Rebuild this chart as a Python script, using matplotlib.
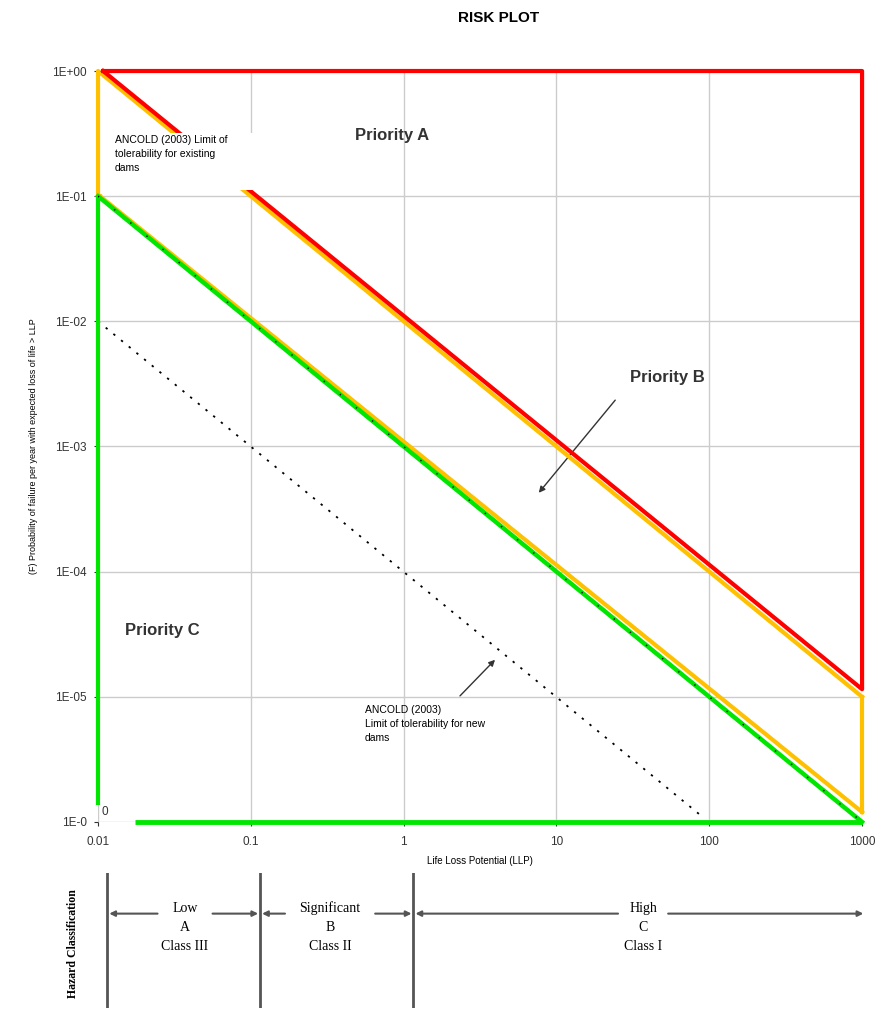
import numpy as np
import matplotlib; matplotlib.use('Agg')
import matplotlib.pyplot as plt
from matplotlib.patches import Rectangle

plt.rcParams['font.family'] = ['Liberation Sans', 'DejaVu Sans']

# axis ticks
x_ticks = [0.01, 0.1, 1, 10, 100, 1000]
x_labels = ['0.01', '0.1', '1', '10', '100', '1000']
y_ticks = [1e0, 1e-1, 1e-2, 1e-3, 1e-4, 1e-5, 1e-6]
y_labels = ['1E+00', '1E-01', '1E-02', '1E-03', '1E-04', '1E-05', '1E-0']

# red boundary (Priority A limit)
red_x = [0.0108, 1000, 1000, 0.0108]
red_y = [1.0, 1.0, 1.15e-5, 1.0]
# orange boundary (ANCOLD existing dams + offset band)
orange_x = [1000, 1000, 0.0103, 0.01, 0.01, 1000]
orange_y = [1.2e-6, 1e-5, 0.1, 0.1, 1.0, 1e-5]
orange_lo_x = [0.0103, 1000]
orange_lo_y = [0.1, 1.2e-6]
# green boundary (Priority C)
green_diag_x = [0.01, 1000]
green_diag_y = [0.1, 1e-6]
green_vert_x = [0.01, 0.01]
green_vert_y = [0.1, 1.37e-6]
green_base_x = [0.0175, 1000]
green_base_y = [1e-6, 1e-6]
# ANCOLD new dams (dotted)
new_x = [0.01, 87]
new_y = [0.01, 1.14e-6]

# hazard classification bands
haz_bounds = [0.0115, 0.115, 1.16]
haz_right = 1050
haz_labels = ['Low\nA\nClass III', 'Significant\nB\nClass II', 'High\nC\nClass I']
haz_centers = [0.0371, 0.33, 36.9]
haz_gap = [0.18, 0.295, 0.164]   # half gap (decades) around the label

fig = plt.figure(figsize=(8.88, 10.13), dpi=100)
ax = fig.add_axes([0.1104, 0.1886, 0.8604, 0.7413])
ax.set_xscale('log'); ax.set_yscale('log')
ax.set_xlim(0.01, 1000); ax.set_ylim(1e-6, 1.0)
ax.set_xticks(x_ticks); ax.set_xticklabels(x_labels, fontsize=8.5, color='#333333')
ax.set_yticks(y_ticks); ax.set_yticklabels(y_labels, fontsize=8.5, color='#333333')
ax.minorticks_off()
ax.tick_params(axis='y', length=3, width=0.8, pad=5, color='#333333')
ax.tick_params(axis='x', length=3, width=0.8, pad=7, color='#333333')
for s in ax.spines.values(): s.set_visible(False)
ax.grid(True, color='#cccccc', lw=1.0)
ax.set_axisbelow(True)

ax.plot(new_x, new_y, color='black', lw=1.3, ls=(0, (1.3, 4.2)), zorder=2)
ax.plot(green_diag_x, green_diag_y, color='#00e600', lw=3.2, zorder=4.5, clip_on=False)
ax.plot(green_vert_x, green_vert_y, color='#00e600', lw=3, zorder=3, solid_capstyle='butt', clip_on=False)
ax.plot(green_base_x, green_base_y, color='#00e600', lw=3.5, zorder=3, solid_capstyle='butt', clip_on=False)
ax.plot(green_diag_x, green_diag_y, color='black', lw=1.0, ls=(0, (1, 14)), zorder=4.6)
ax.plot(orange_lo_x, orange_lo_y, color='#ffc000', lw=3, zorder=4, clip_on=False)
ax.plot(orange_x[2:], orange_y[2:], color='#ffc000', lw=3, zorder=4, clip_on=False)
ax.plot(orange_x[:2], orange_y[:2], color='#ffc000', lw=3, zorder=4, clip_on=False)
ax.plot(red_x, red_y, color='#ff0000', lw=3, zorder=5, clip_on=False)

# white box behind the existing dams note
ax.add_patch(Rectangle((0.013, 0.8415), 0.191, 0.0755, transform=ax.transAxes,
                       facecolor='white', edgecolor='none', zorder=6))
ax.text(0.0129, 0.308, 'ANCOLD (2003) Limit of\ntolerability for existing\ndams',
        fontsize=7.5, va='top', ha='left', linespacing=1.5, zorder=7)

ax.text(0.84, 0.308, 'Priority A', fontsize=12, weight='bold', color='#333333', ha='center', va='center')
ax.text(52.9, 3.53e-3, 'Priority B', fontsize=12, weight='bold', color='#333333', ha='center', va='center')
ax.text(0.0262, 3.37e-5, 'Priority C', fontsize=12, weight='bold', color='#333333', ha='center', va='center')
ax.annotate('', xy=(7.46, 4.1e-4), xytext=(24.9, 2.44e-3),
            arrowprops=dict(arrowstyle='-|>', color='#333333', lw=1.0, mutation_scale=9))
ax.annotate('', xy=(4.08, 2.05e-5), xytext=(2.27, 9.8e-6),
            arrowprops=dict(arrowstyle='-|>', color='#333333', lw=1.0, mutation_scale=9))
ax.text(0.559, 8.6e-6, 'ANCOLD (2003)\nLimit of tolerability for new\ndams',
        fontsize=7.5, va='top', ha='left', linespacing=1.5)
ax.text(0.0106, 1.08e-6, '0', fontsize=8.5, color='#333333', ha='left', va='bottom')

ax.set_xlabel('Life Loss Potential (LLP)', fontsize=7, labelpad=6)
ax.set_ylabel('(F) Probability of failure per year with expected loss of life > LLP', fontsize=6.5, labelpad=10)
fig.text(0.562, 0.982, 'RISK PLOT', fontsize=11, weight='bold', ha='center', va='center')

# hazard classification panel
hx = fig.add_axes([0.1104, 0.005, 0.8604, 0.133])
hx.set_xscale('log'); hx.set_xlim(0.01, 1000); hx.set_ylim(0, 1)
hx.axis('off')
for b in haz_bounds:
    hx.plot([b, b], [0, 1], color='#555555', lw=2)
rights = haz_bounds[1:] + [haz_right]
for lo, hi, lab, c, g in zip(haz_bounds, rights, haz_labels, haz_centers, haz_gap):
    hx.text(c, 0.6, lab, family=['Liberation Serif', 'DejaVu Serif'], fontsize=10,
            ha='center', va='center', linespacing=1.6)
    ap = dict(arrowstyle='-|>', color='#555555', lw=1.5, mutation_scale=8, shrinkA=0, shrinkB=0)
    hx.annotate('', xy=(lo * 1.03, 0.7), xytext=(c / 10**g, 0.7), arrowprops=ap, annotation_clip=False)
    hx.annotate('', xy=(hi / 1.03, 0.7), xytext=(c * 10**g, 0.7), arrowprops=ap, annotation_clip=False)
fig.text(0.082, 0.069, 'Hazard Classification', family=['Liberation Serif', 'DejaVu Serif'],
         fontsize=8.5, weight='bold', rotation=90, ha='center', va='center')

plt.savefig('out.png', dpi=100)
